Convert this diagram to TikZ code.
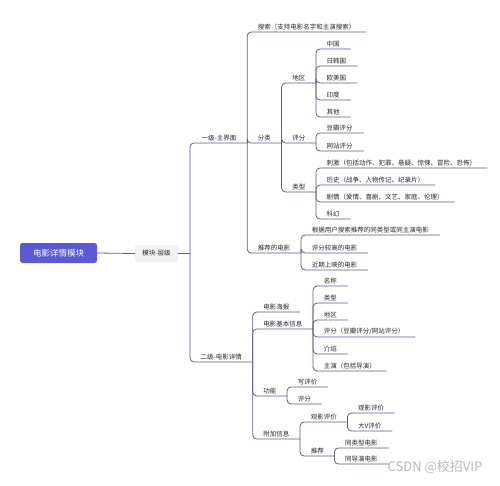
\documentclass[tikz,border=0pt]{standalone}
\usepackage{fontspec}
\usepackage{xcolor}
\usepackage{tikz}
\usetikzlibrary{positioning,calc}
\newfontfamily\cjk{Noto Sans CJK SC}
\definecolor{mmblue}{RGB}{90,90,214}
\definecolor{mmline}{RGB}{92,92,150}
\definecolor{mmgray}{RGB}{242,242,246}
\tikzset{
  every picture/.append style={line cap=round,line join=round},
  mm root/.style={rounded corners=2.5pt,fill=mmblue,text=white,minimum width=77pt,minimum height=20pt,font=\cjk\fontsize{8.5}{10}\selectfont},
  mm level/.style={rounded corners=2pt,fill=mmgray,text=black!85,minimum width=43pt,minimum height=17pt,font=\cjk\fontsize{6.5}{8}\selectfont},
  mm topic/.style={anchor=south west,inner xsep=10.5pt,inner ysep=1.8pt,text=black!85,font=\cjk\fontsize{6.5}{8}\selectfont},
  mm branch/.style={mmline,line width=0.8pt,rounded corners=4pt},
  mm mark/.style={text=gray!55,anchor=south east,font=\cjk\fontsize{13}{14}\selectfont}
}

\begin{document}
\begin{tikzpicture}[x=1pt,y=-1pt]
  \useasboundingbox (0,0) rectangle (500,485);

  \node[mm root] (root) at (58.5,253) {电影详情模块};
  \node[mm level] (level) at (156.5,253.5) {模块-层级};
  \coordinate (hub) at (190,253.5);
  \draw[mm branch] (root.east) -- (level.west) (level.east) -- (hub);

  % first level
  \node[mm topic] (yiji) at ([xshift=1pt]hub |- 0,143) {一级-主界面};
  \node[mm topic] (erji) at (hub |- 0,362) {二级-电影详情};
  \draw[mm branch] (hub) |- (yiji.south east);
  \draw[mm branch] (hub) |- (erji.south east);

  % main screen
  \node[mm topic] (sousuo) at (yiji.south east |- 0,32) {搜索（支持电影名字和主演搜索）};
  \node[mm topic] (fenlei) at (yiji.south east |- 0,143) {分类};
  \node[mm topic] (tuijian) at (yiji.south east |- 0,253) {推荐的电影};

  \node[mm topic] (diqu) at (fenlei.south east |- 0,83) {地区};
  \node[mm topic] (pingfen) at (fenlei.south east |- 0,143) {评分};
  \node[mm topic] (leixing) at (fenlei.south east |- 0,192) {类型};

  \node[mm topic] (zhongguo) at (diqu.south east |- 0,49) {中国};
  \node[mm topic] (rihan) at (diqu.south east |- 0,66) {日韩国};
  \node[mm topic] (oumei) at (diqu.south east |- 0,83) {欧美国};
  \node[mm topic] (yindu) at (diqu.south east |- 0,100) {印度};
  \node[mm topic] (qita) at (diqu.south east |- 0,117) {其他};

  \node[mm topic] (douban) at (pingfen.south east |- 0,133) {豆瓣评分};
  \node[mm topic] (wangzhan) at (pingfen.south east |- 0,151) {网站评分};

  \node[mm topic] (ciji) at (leixing.south east |- 0,168) {刺激（包括动作、犯罪、悬疑、惊悚、冒险、恐怖）};
  \node[mm topic] (lishi) at (leixing.south east |- 0,185) {历史（战争、人物传记、纪录片）};
  \node[mm topic] (juqing) at (leixing.south east |- 0,202) {剧情（爱情、喜剧、文艺、家庭、伦理）};
  \node[mm topic] (kehuan) at (leixing.south east |- 0,219) {科幻};

  \node[mm topic] (genju) at (tuijian.south east |- 0,235) {根据用户搜索推荐的同类型或同主演电影};
  \node[mm topic] (gaofen) at (tuijian.south east |- 0,253) {评分较高的电影};
  \node[mm topic] (jinqi) at (tuijian.south east |- 0,270) {近期上映的电影};

  % details screen
  \node[mm topic] (haibao) at (erji.south east |- 0,312) {电影海报};
  \node[mm topic] (jiben) at (erji.south east |- 0,329) {电影基本信息};
  \node[mm topic] (gongneng) at (erji.south east |- 0,396) {功能};
  \node[mm topic] (fujia) at (erji.south east |- 0,439) {附加信息};

  \node[mm topic] (mingcheng) at (jiben.south east |- 0,286) {名称};
  \node[mm topic] (leixingb) at (jiben.south east |- 0,303) {类型};
  \node[mm topic] (diqub) at (jiben.south east |- 0,320) {地区};
  \node[mm topic] (pingfenb) at (jiben.south east |- 0,337) {评分（豆瓣评分/网站评分）};
  \node[mm topic] (jieshao) at (jiben.south east |- 0,354) {介绍};
  \node[mm topic] (zhuyan) at (jiben.south east |- 0,371) {主演（包括导演）};

  \node[mm topic] (xie) at (gongneng.south east |- 0,387) {写评价};
  \node[mm topic] (pingfenc) at (gongneng.south east |- 0,404) {评分};

  \node[mm topic] (guanying) at (fujia.south east |- 0,422) {观影评价};
  \node[mm topic] (tuijianb) at (fujia.south east |- 0,456) {推荐};

  \node[mm topic] (guanyingb) at (guanying.south east |- 0,413) {观影评价};
  \node[mm topic] (dav) at (guanying.south east |- 0,431) {大V评价};

  \node[mm topic] (tonglei) at (tuijianb.south east |- 0,448) {同类型电影};
  \node[mm topic] (tongdao) at (tuijianb.south east |- 0,464) {同导演电影};

  \foreach \p/\c in {yiji/sousuo,yiji/fenlei,yiji/tuijian,
      fenlei/diqu,fenlei/pingfen,fenlei/leixing,
      diqu/zhongguo,diqu/rihan,diqu/oumei,diqu/yindu,diqu/qita,
      pingfen/douban,pingfen/wangzhan,
      leixing/ciji,leixing/lishi,leixing/juqing,leixing/kehuan,
      tuijian/genju,tuijian/gaofen,tuijian/jinqi,
      erji/haibao,erji/jiben,erji/gongneng,erji/fujia,
      jiben/mingcheng,jiben/leixingb,jiben/diqub,jiben/pingfenb,jiben/jieshao,jiben/zhuyan,
      gongneng/xie,gongneng/pingfenc,
      fujia/guanying,fujia/tuijianb,
      guanying/guanyingb,guanying/dav,
      tuijianb/tonglei,tuijianb/tongdao}
    \draw[mm branch] (\p.south east) |- (\c.south east);

  \node[mm mark] (mark) at (486,477) {CSDN @校招VIP};
\end{tikzpicture}
\end{document}
